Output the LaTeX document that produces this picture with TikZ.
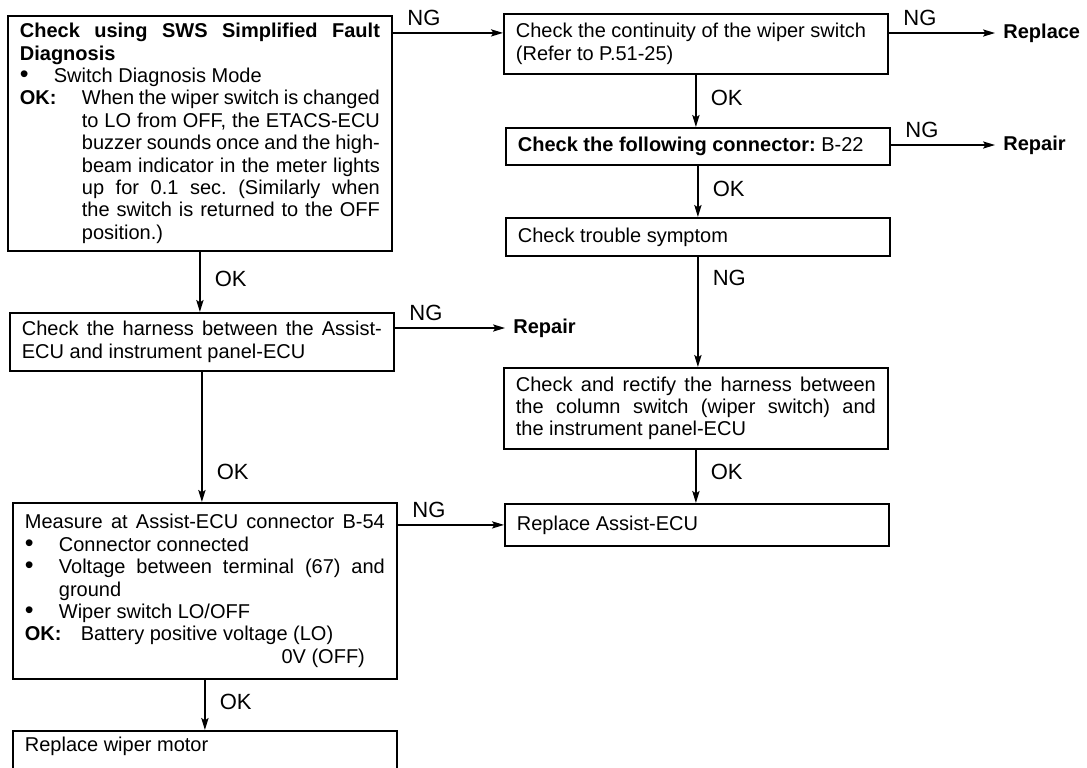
\documentclass[tikz,border=0pt]{standalone}
\usepackage{fontspec}
\setmainfont{Liberation Sans}
\usetikzlibrary{arrows.meta}
\setlength{\parindent}{0pt}
\frenchspacing

% bullet line and OK line with hanging text
\newcommand{\dotmark}{\smash{\fontsize{12.5}{0}\selectfont\textbullet}}
\newcommand{\bitem}[1]{\par\hangindent=17pt\hangafter=1\noindent\makebox[17pt][l]{\dotmark}#1\par}
\newcommand{\okline}[2][30pt]{\par\hangindent=#1\hangafter=1\noindent\makebox[#1][l]{\bfseries OK:}#2\par}

\begin{document}
\begin{tikzpicture}[x=0.5pt,y=-0.5pt,
  box/.style={draw,line width=0.9pt,anchor=north west,text width=180pt,inner xsep=6pt,inner ysep=3pt,
    align=justify,font=\fontsize{10}{11.2}\selectfont},
  lab/.style={font=\fontsize{11}{12}\selectfont,inner sep=0pt},
  ng/.style={lab,pos=0,anchor=south west,xshift=7pt,yshift=3.5pt},
  ok/.style={lab,anchor=west,xshift=7pt},
  res/.style={anchor=west,font=\fontsize{10}{12}\selectfont\bfseries,inner xsep=4pt},
  arr/.style={line width=0.6pt,-{Stealth[length=6pt,width=3.6pt,inset=1.2pt]}},
  varr/.style={arr,line width=0.9pt}]
  \useasboundingbox (0,0) rectangle (1087,767);
  % left column
  \node[box,minimum height=117.5pt] (SWS) at (7,15) {{\bfseries Check using SWS Simplified Fault\linebreak Diagnosis}
    \bitem{Switch Diagnosis Mode}
    \okline[31pt]{When the wiper switch is changed to LO from OFF, the ETACS-ECU\linebreak buzzer sounds once and the high-\linebreak beam indicator in the meter lights\linebreak up for 0.1 sec. (Similarly when\linebreak the switch is returned to the OFF\linebreak position.)}};
  \node[box,minimum height=29pt] (HAR) at (9,312) {Check the harness between the Assist-\linebreak ECU and instrument panel-ECU};
  \node[box,minimum height=88pt] (MEAS) at (12,502) {\makebox[\linewidth][s]{Measure at Assist-ECU connector B-54}
    \bitem{Connector connected}
    \bitem{Voltage between terminal (67) and\linebreak ground}
    \bitem{Wiper switch LO/OFF}
    \okline[28pt]{Battery positive voltage (LO)\\\hspace*{\fill}0V (OFF)\hspace*{10pt}}};
  \node[box,text height=7.5pt,text depth=14pt] (MOT) at (12,730) {Replace wiper motor};
  % right column
  \node[box,minimum height=30pt] (CONT) at (503,13) {Check the continuity of the wiper switch\\(Refer to P.51-25)};
  \node[box,minimum height=18.5pt] (CON) at (505,127) {\textbf{Check the following connector:} B-22};
  \node[box,minimum height=19pt] (SYM) at (505,217) {Check trouble symptom};
  \node[box,minimum height=40.5pt] (RECT) at (503,367) {Check and rectify the harness between\linebreak the column switch (wiper switch) and\linebreak the instrument panel-ECU};
  \node[box,minimum height=21pt] (AECU) at (504,503) {Replace Assist-ECU};
  \node[res] (REP1) at (995,33) {Replace};
  \node[res] (REP2) at (995,145) {Repair};
  \node[res] (REP3) at (505,328) {Repair};
  \coordinate (ngA) at ([yshift=5.5pt]CONT.west);
  % NG branches
  \draw[arr] (SWS.east |- ngA) -- (ngA) node[ng] {NG};
  \draw[arr] (CONT.east |- REP1.west) -- (REP1.west) node[ng] {NG};
  \draw[arr] (CON.east |- REP2.west) -- (REP2.west) node[ng] {NG};
  \draw[arr] (HAR.east |- REP3.west) -- (REP3.west) node[ng] {NG};
  \draw[arr] (MEAS.east |- AECU.west) -- (AECU.west) node[ng] {NG};
  % OK branches
  \draw[varr] (SWS.south) -- (SWS.south |- HAR.north) node[ok,pos=0.45] {OK};
  \draw[varr] (HAR.south) -- (HAR.south |- MEAS.north) node[ok,pos=0.77] {OK};
  \draw[varr] (MEAS.south) -- (MEAS.south |- MOT.north) node[ok,pos=0.45] {OK};
  \draw[varr] (CONT.south) -- (CONT.south |- CON.north) node[ok,pos=0.45] {OK};
  \draw[varr] (CON.south) -- (CON.south |- SYM.north) node[ok,pos=0.45] {OK};
  \draw[varr] (SYM.south) -- (SYM.south |- RECT.north) node[ok,pos=0.19] {NG};
  \draw[varr] (RECT.south) -- (RECT.south |- AECU.north) node[ok,pos=0.42] {OK};
\end{tikzpicture}
\end{document}
